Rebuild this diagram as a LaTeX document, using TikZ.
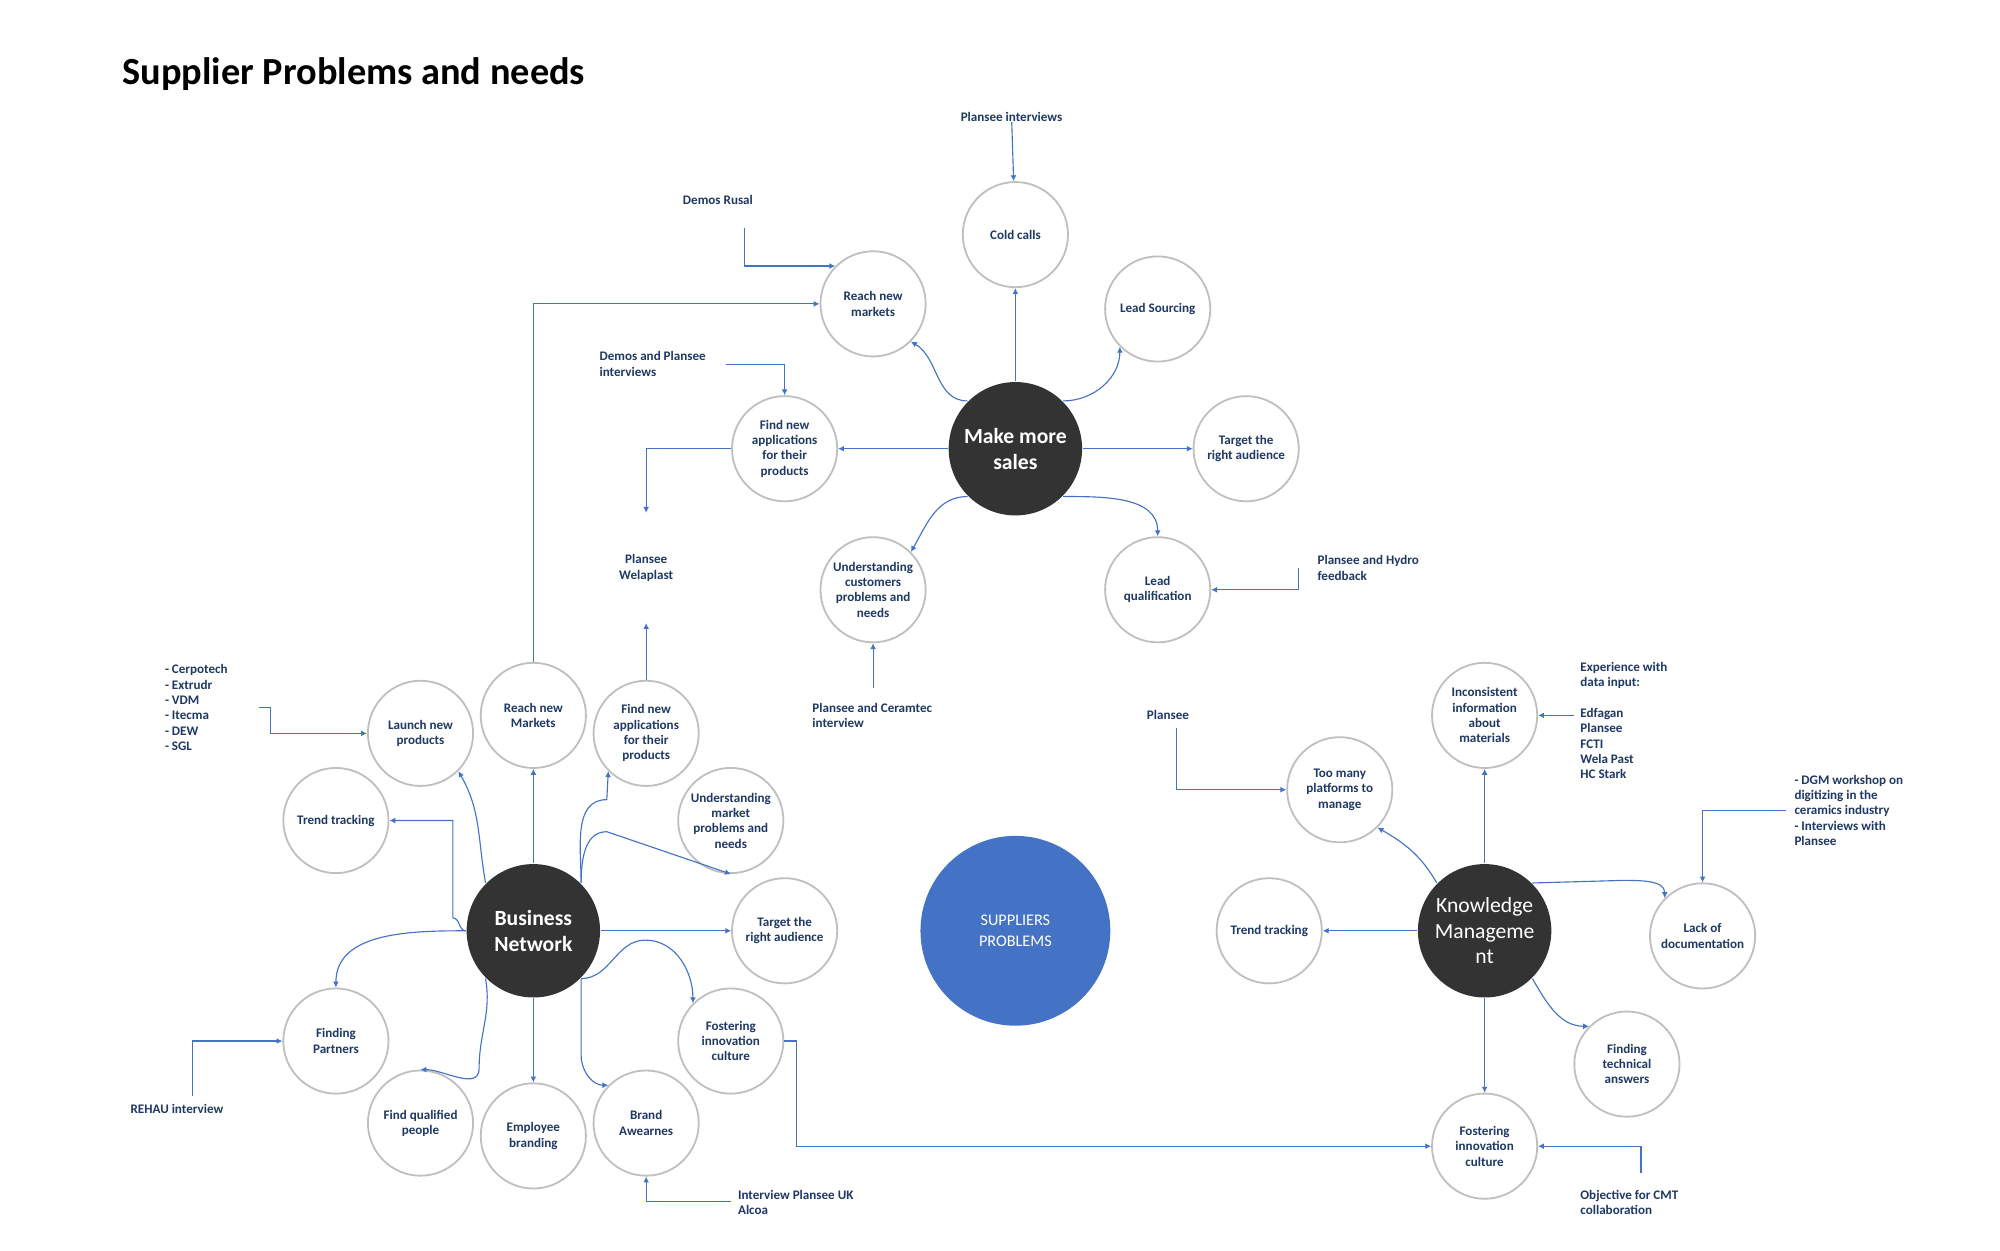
\documentclass[tikz,border=0pt]{standalone}
\usepackage{fontspec}
\setmainfont{Carlito}
\usetikzlibrary{arrows.meta}
\definecolor{lineblue}{HTML}{4472C4}
\definecolor{navy}{HTML}{1F3864}
\definecolor{hub}{HTML}{333333}
\tikzset{
  need/.style={circle,draw=black!25,minimum size=0.82cm,inner sep=0pt,align=center,
    font=\fontsize{2.9}{3.4}\selectfont\bfseries,text=navy},
  hubnode/.style={circle,fill=hub,minimum size=1.04cm,inner sep=0pt,align=center,
    font=\fontsize{4.8}{5.7}\selectfont\bfseries,text=white},
  source/.style={align=left,inner sep=0pt,font=\fontsize{2.9}{3.4}\selectfont\bfseries,text=navy},
  link/.style={draw=lineblue,line width=0.25pt,-{Latex[length=1.3pt,width=1.3pt]}},
  plain/.style={draw=lineblue,line width=0.25pt}
}
\begin{document}
\begin{tikzpicture}[x=0.01cm,y=-0.01cm]
    \useasboundingbox[fill=white] (0,0) rectangle (1560,975);
    \node[anchor=west,inner sep=0pt,font=\fontsize{8.5}{10}\selectfont\bfseries] (title) at (95,58) {Supplier Problems and needs};

    % Hubs
    \node[hubnode] (sales) at (792,350) {Make more\\sales};
    \node[hubnode] (bn) at (416,726) {Business\\Network};
    \node[hubnode,font=\fontsize{4.8}{5.7}\selectfont] (km) at (1158,726) {Knowledge\\Manageme\\nt};
    \node[circle,fill=lineblue,minimum size=1.48cm,align=center,text=white,
      font=\fontsize{3.6}{4.6}\selectfont] (sp) at (792,726) {SUPPLIERS\\PROBLEMS};

    % Make more sales
    \node[need] (cold) at (792,183) {Cold calls};
    \node[need] (leadsrc) at (903,241) {Lead Sourcing};
    \node[need] (target1) at (972,350) {Target the\\right audience};
    \node[need] (leadq) at (903,460) {Lead\\qualification};
    \node[need] (undcust) at (681,460) {Understanding\\customers\\problems and\\needs};
    \node[need] (findapp1) at (612,350) {Find new\\applications\\for their\\products};
    \node[need] (reach1) at (681,237) {Reach new\\markets};

    % Business network
    \node[need] (launch) at (328,572) {Launch new\\products};
    \node[need] (reach2) at (416,558) {Reach new\\Markets};
    \node[need] (findapp2) at (504,572) {Find new\\applications\\for their\\products};
    \node[need] (undmkt) at (570,640) {Understanding\\market\\problems and\\needs};
    \node[need] (target2) at (612,726) {Target the\\right audience};
    \node[need] (foster1) at (570,812) {Fostering\\innovation\\culture};
    \node[need] (brand) at (504,876) {Brand\\Awearnes};
    \node[need] (employee) at (416,886) {Employee\\branding};
    \node[need] (qualified) at (328,876) {Find qualified\\people};
    \node[need] (partners) at (262,812) {Finding\\Partners};
    \node[need] (trend1) at (262,640) {Trend tracking};

    % Knowledge management
    \node[need] (inconsist) at (1158,558) {Inconsistent\\information\\about\\materials};
    \node[need] (platforms) at (1045,616) {Too many\\platforms to\\manage};
    \node[need] (trend2) at (990,726) {Trend tracking};
    \node[need] (lackdoc) at (1328,730) {Lack of\\documentation};
    \node[need] (techans) at (1269,830) {Finding\\technical\\answers};
    \node[need] (foster2) at (1158,894) {Fostering\\innovation\\culture};

    % Sources
    \node[source,align=center] (s1) at (789,91) {Plansee interviews};
    \node[source] (s2) at (560,156) {Demos Rusal};
    \node[source,anchor=west] (s3) at (467,284) {Demos and Plansee\\interviews};
    \node[source,align=center] (s4) at (504,443) {Plansee\\Welaplast};
    \node[source,anchor=west] (s5) at (1027,443) {Plansee and Hydro\\feedback};
    \node[source,anchor=west] (s6) at (633,558) {Plansee and Ceramtec\\interview};
    \node[source,anchor=west] (s7) at (128,552) {- Cerpotech\\- Extrudr\\- VDM\\- Itecma\\- DEW\\- SGL};
    \node[source] (s8) at (138,865) {REHAU interview};
    \node[source,anchor=west] (s9) at (575,938) {Interview Plansee UK\\Alcoa};
    \node[source] (s10) at (911,558) {Plansee};
    \node[source,anchor=west] (s11) at (1232,562) {Experience with\\data input:\\[3.4pt]Edfagan\\Plansee\\FCTI\\Wela Past\\HC Stark};
    \node[source,anchor=west] (s12) at (1399,632) {- DGM workshop on\\digitizing in the\\ceramics industry\\- Interviews with\\Plansee};
    \node[source,anchor=west] (s13) at (1232,938) {Objective for CMT\\collaboration};

    % Make more sales links
    \draw[link] (sales) -- (cold);
    \draw[link] (sales.north east) to[out=0,in=-90] (leadsrc.south west);
    \draw[link] (sales) -- (target1);
    \draw[link] (sales.south east) to[out=0,in=90] (leadq.north);
    \draw[link] (sales.south west) to[out=180,in=60] (undcust.north east);
    \draw[link] (sales) -- (findapp1);
    \draw[link] (sales.north west) to[out=180,in=-30] (reach1.south east);

    % Business network links
    \draw[link] (bn) -- (reach2);
    \draw[link] (bn.north west) to[out=100,in=-60] (launch.south east);
    \draw[link] (bn.west) to[out=180,in=0] ++(-10,-10) |- (trend1.east);
    \draw[link] (bn.north east) to[out=90,in=180] ++(20,-65) -- (findapp2.south west);
    \draw[link] (bn.north east) to[out=90,in=180] ++(20,-40) -- (undmkt.south);
    \draw[link] (bn) -- (target2);
    \draw[link] (bn.south east) to[out=0,in=180] ++(50,-30) to[out=0,in=90] (foster1.north west);
    \draw[link] (bn.south east) -- ++(0,60) to[out=-90,in=180] (brand.north west);
    \draw[link] (bn) -- (employee);
    \draw[link] (bn.south west) to[out=-80,in=90] ++(-5,70) to[out=-90,in=0] (qualified.north);
    \draw[link] (bn.west) to[out=180,in=90] (partners.north);

    % Knowledge management links
    \draw[link] (km) -- (inconsist);
    \draw[link] (km.north west) to[out=120,in=-30] (platforms.south east);
    \draw[link] (km) -- (trend2);
    \draw[link] (km.north east) -- ++(70,-2) to[out=0,in=90] (lackdoc.north west);
    \draw[link] (km.south east) to[out=-60,in=180] (techans.north west);
    \draw[link] (km) -- (foster2);

    % Source links
    \draw[link] (s1) -- (cold);
    \draw[link] (581,178) |- (reach1.north west);
    \draw[link] (566,284) -| (findapp1.north);
    \draw[link] (findapp1.west) -| (504,400);
    \draw[link] (findapp2.north) -- (504,486);
    \draw[link] (1013,443) |- (leadq.east);
    \draw[link] (681,537) -- (undcust.south);
    \draw[link] (202,552) -- (211,552) |- (launch.west);
    \draw[link] (150,855) |- (partners.west);
    \draw[link] (570,937) -| (brand.south);
    \draw[link] (918,568) |- (platforms.west);
    \draw[link] (1228,558) -- (inconsist.east);
    \draw[link] (1393,632) -| (lackdoc.north);
    \draw[link] (1280,915) |- (foster2.east);
    \draw[link] (foster1.east) -- (621,812) |- (foster2.west);
    \draw[link] (reach2.north) |- (reach1.west);
\end{tikzpicture}
\end{document}
